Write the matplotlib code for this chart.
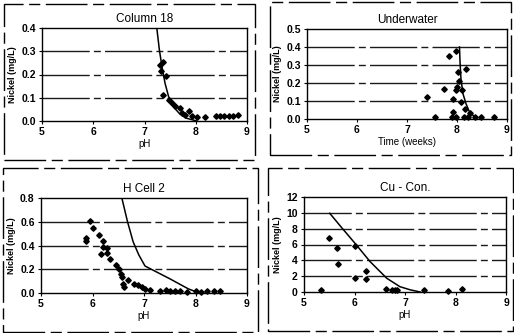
import matplotlib
matplotlib.use("Agg")
import matplotlib.pyplot as plt
from matplotlib.patches import Rectangle

plt.rcParams['font.family'] = ['Liberation Sans', 'DejaVu Sans']

# ---- Data ----
c18_ph = [7.31, 7.37, 7.32, 7.42, 7.37, 7.47, 7.53, 7.60, 7.69, 7.73, 7.79, 7.86, 7.92,
          8.02, 8.18, 8.40, 8.48, 8.56, 8.64, 8.72, 8.83]
c18_ni = [0.242, 0.253, 0.213, 0.194, 0.112, 0.090, 0.076, 0.065, 0.055, 0.033, 0.026,
          0.045, 0.022, 0.019, 0.019, 0.022, 0.022, 0.022, 0.022, 0.022, 0.024]
c18_fit_ph = [7.24, 7.29, 7.34, 7.40, 7.47, 7.56, 7.69, 7.82, 8.02]
c18_fit_ni = [0.40, 0.306, 0.235, 0.163, 0.105, 0.062, 0.030, 0.012, 0.0]

uw_ph = [7.56, 7.40, 7.74, 7.84, 7.98, 8.02, 8.17, 8.00, 7.98, 8.04, 8.09, 7.92, 8.07,
         7.92, 8.16, 8.26, 7.89, 7.98, 8.14, 8.22, 8.36, 8.47, 8.74]
uw_ni = [0.010, 0.120, 0.165, 0.350, 0.380, 0.260, 0.280, 0.180, 0.160, 0.210, 0.160,
         0.110, 0.097, 0.040, 0.054, 0.035, 0.010, 0.010, 0.013, 0.013, 0.013, 0.013, 0.010]
uw_fit_ph = [8.05, 8.06, 8.08, 8.12, 8.18, 8.24, 8.32, 8.40]
uw_fit_ni = [0.40, 0.32, 0.22, 0.14, 0.085, 0.045, 0.020, 0.008]

hc_ph = [5.88, 5.88, 5.96, 6.01, 6.13, 6.20, 6.20, 6.17, 6.29, 6.28, 6.34, 6.46, 6.52,
         6.55, 6.57, 6.60, 6.61, 6.69, 6.80, 6.88, 6.96, 7.01, 7.12, 7.32, 7.43, 7.51,
         7.61, 7.70, 7.83, 8.00, 8.10, 8.22, 8.35, 8.48]
hc_ni = [0.466, 0.440, 0.610, 0.550, 0.490, 0.440, 0.390, 0.330, 0.380, 0.340, 0.290,
         0.240, 0.200, 0.160, 0.135, 0.080, 0.050, 0.107, 0.073, 0.065, 0.050, 0.037,
         0.023, 0.017, 0.028, 0.014, 0.014, 0.014, 0.010, 0.014, 0.010, 0.014, 0.014, 0.014]
hc_fit_ph = [6.57, 6.68, 6.79, 6.90, 7.02, 7.50, 7.86, 8.00, 8.10]
hc_fit_ni = [0.80, 0.60, 0.43, 0.32, 0.227, 0.12, 0.035, 0.012, 0.005]

cu_ph = [5.33, 5.50, 5.65, 5.68, 6.00, 6.01, 6.23, 6.23, 6.63, 6.75, 6.80, 6.84, 7.37, 7.85, 8.13]
cu_ni = [0.20, 6.80, 5.50, 3.50, 1.80, 5.85, 2.60, 1.60, 0.42, 0.20, 0.20, 0.20, 0.30, 0.17, 0.34]
cu_fit_ph = [5.51, 5.75, 6.01, 6.31, 6.64, 6.90, 7.10, 7.23, 7.30]
cu_fit_ni = [9.94, 8.10, 6.15, 3.83, 1.73, 0.67, 0.28, 0.10, 0.0]

panels = [
    dict(title="Column 18", xlabel="pH", x=c18_ph, y=c18_ni, fx=c18_fit_ph, fy=c18_fit_ni,
         ymax=0.4, ystep=0.1, fmt="{:.1f}"),
    dict(title="Underwater", xlabel="Time (weeks)", x=uw_ph, y=uw_ni, fx=uw_fit_ph, fy=uw_fit_ni,
         ymax=0.5, ystep=0.1, fmt="{:.1f}"),
    dict(title="H Cell 2", xlabel="pH", x=hc_ph, y=hc_ni, fx=hc_fit_ph, fy=hc_fit_ni,
         ymax=0.8, ystep=0.2, fmt="{:.1f}"),
    dict(title="Cu - Con.", xlabel="pH", x=cu_ph, y=cu_ni, fx=cu_fit_ph, fy=cu_fit_ni,
         ymax=12, ystep=2, fmt="{:.0f}"),
]
x_ticks = [5, 6, 7, 8, 9]

W, H = 514, 333
fig = plt.figure(figsize=(W / 100, H / 100), dpi=100)
fig.patch.set_facecolor("white")

# axes boxes in pixel coords (left, right, top, bottom)
ax_px = [(42, 247, 28, 121), (307, 507, 29, 119), (41, 247, 198, 293), (304, 506, 197, 292)]
box_px = [(4, 255, 4, 160), (270, 511, 2, 155), (3, 258, 168, 332), (268, 513, 168, 331)]

for p, (l, r, t, b), (bl, br, bt, bb) in zip(panels, ax_px, box_px):
    # chart area border
    fig.patches.append(Rectangle((bl / W, 1 - bb / H), (br - bl) / W, (bb - bt) / H,
                                 transform=fig.transFigure, fill=False, edgecolor="black",
                                 linewidth=1.0, linestyle=(0, (30, 4, 8, 4))))
    ax = fig.add_axes([l / W, 1 - b / H, (r - l) / W, (b - t) / H])
    ax.set_xlim(5, 9)
    ax.set_ylim(0, p["ymax"])
    ax.set_xticks(x_ticks)
    ax.set_xticklabels([str(v) for v in x_ticks])
    n = int(round(p["ymax"] / p["ystep"]))
    yt = [i * p["ystep"] for i in range(n + 1)]
    ax.set_yticks(yt)
    ax.set_yticklabels([p["fmt"].format(v) for v in yt])
    for v in yt[1:-1]:
        ax.axhline(v, color="#1a1a1a", linewidth=1.0, linestyle=(0, (34, 3, 5, 3)), zorder=1)
    ax.plot(p["fx"], p["fy"], color="black", linewidth=1.1, zorder=3, clip_on=True)
    ax.plot(p["x"], p["y"], linestyle="none", marker="D", markersize=2.8,
            color="black", zorder=4, clip_on=False)
    for s in ax.spines.values():
        s.set_linewidth(1.0)
        s.set_color("black")
    ax.tick_params(direction="out", length=2.5, width=0.8, labelsize=7.5, pad=2)
    for lab in ax.get_xticklabels() + ax.get_yticklabels():
        lab.set_fontweight("bold")
    ax.set_title(p["title"], fontsize=8.5, pad=4)
    ax.set_xlabel(p["xlabel"], fontsize=7, labelpad=1)
    ax.set_ylabel("Nickel (mg/L)", fontsize=6.5, fontweight="bold", labelpad=3)

fig.savefig("out.png", dpi=100, facecolor="white")
